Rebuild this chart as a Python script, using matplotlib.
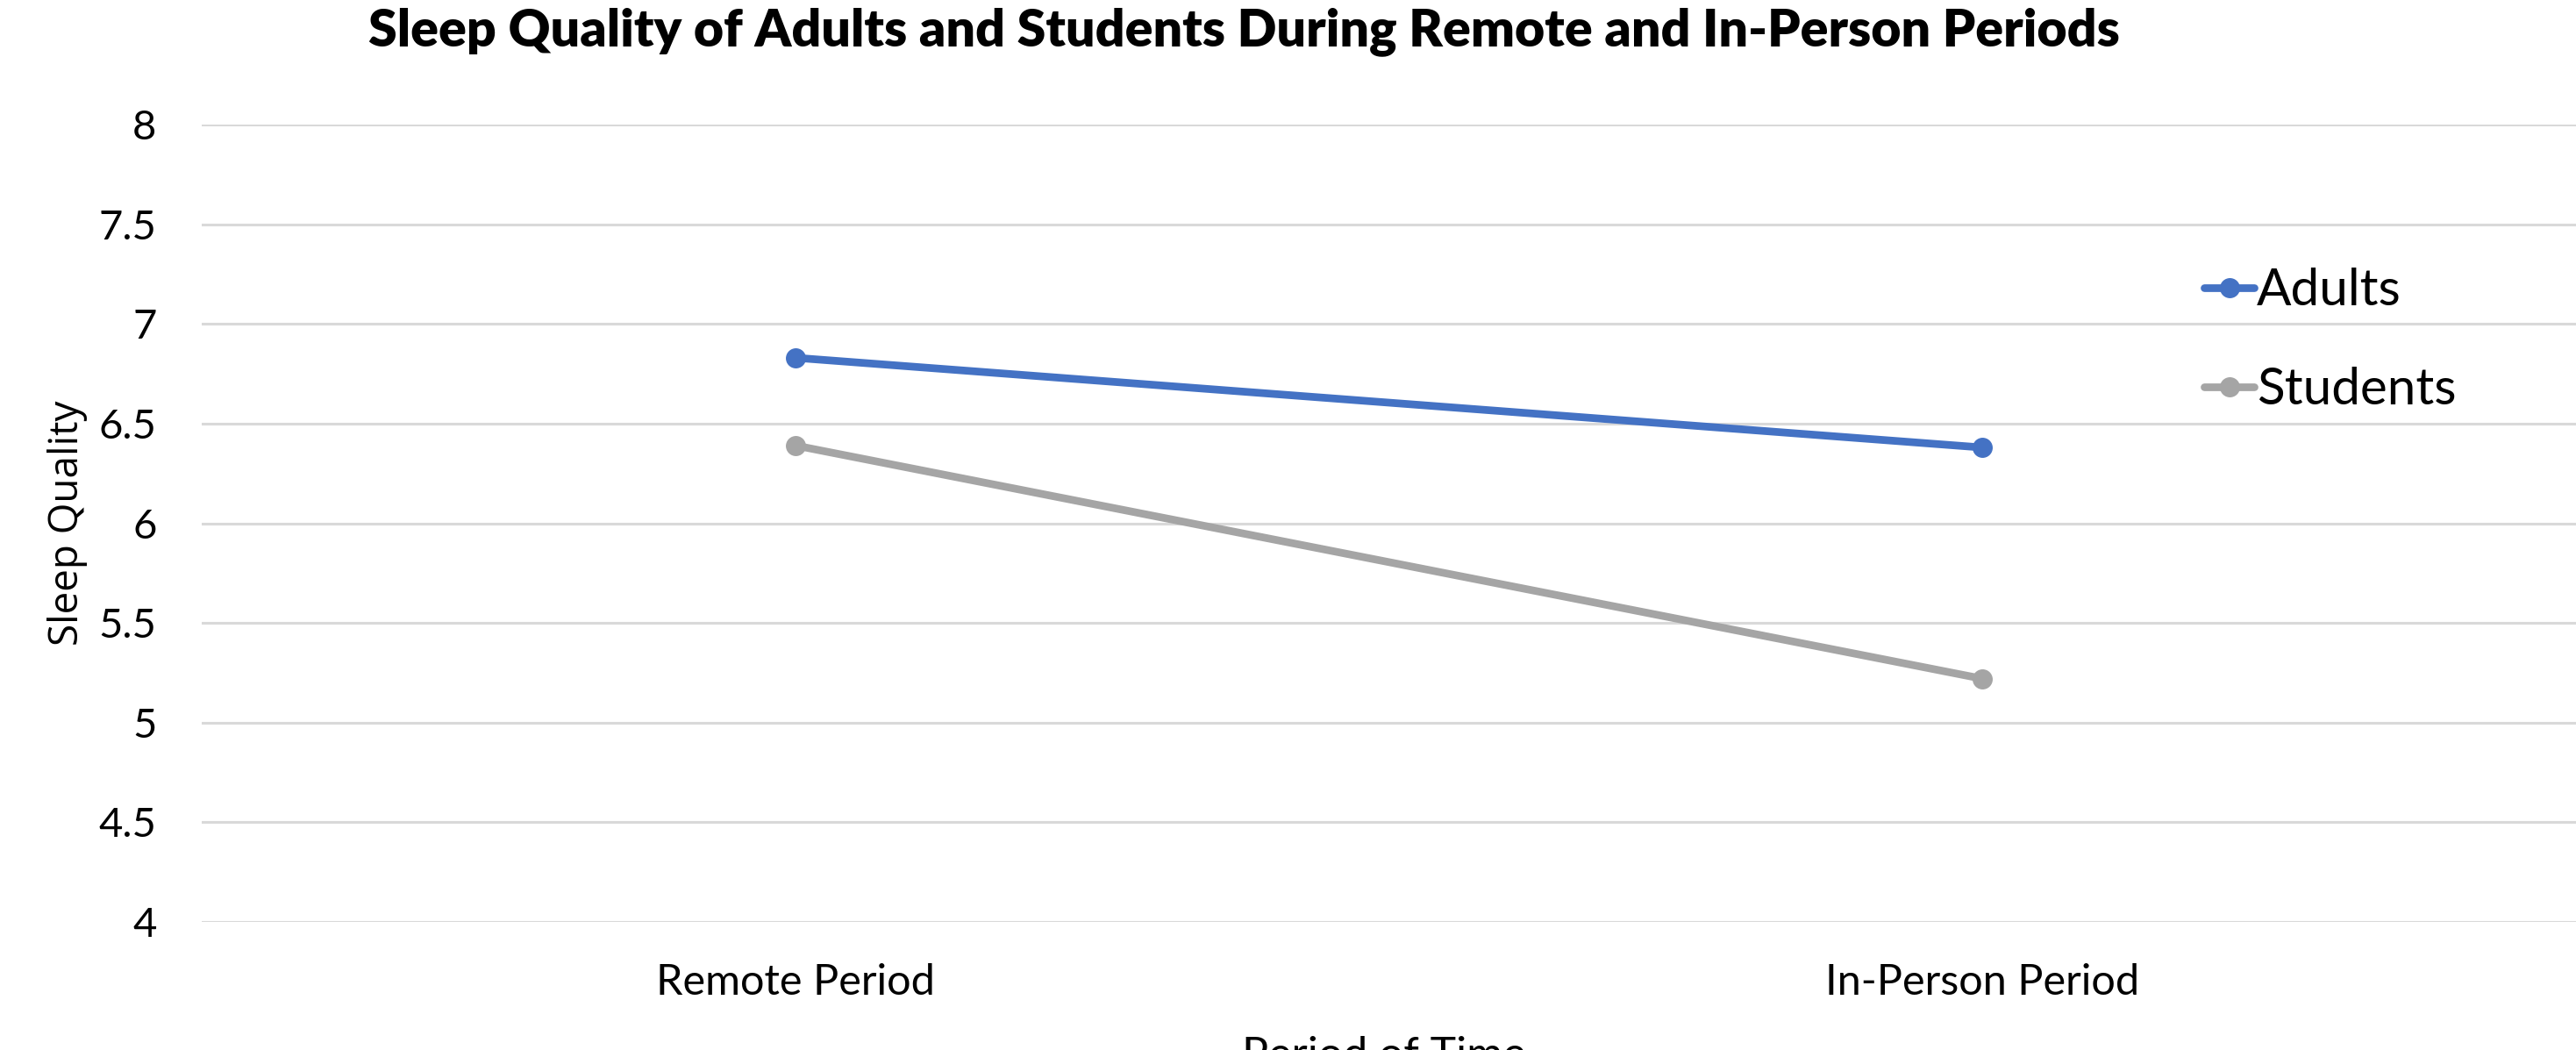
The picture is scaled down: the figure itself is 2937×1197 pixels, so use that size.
import matplotlib
matplotlib.use("Agg")
import matplotlib.pyplot as plt

categories = ["Remote Period", "In-Person Period"]
adults = [6.83, 6.38]
students = [6.39, 5.22]
yticks = [4, 4.5, 5, 5.5, 6, 6.5, 7, 7.5, 8]
ytick_labels = ["4", "4.5", "5", "5.5", "6", "6.5", "7", "7.5", "8"]

W, H = 2937, 1197
fig = plt.figure(figsize=(W / 100, H / 100), dpi=100)
fig.patch.set_facecolor("white")
ax = fig.add_axes([230 / W, 1 - 1051 / H, (W - 230) / W, (1051 - 142) / H])

x = list(range(len(categories)))
blue = "#4472C4"
gray = "#A5A5A5"
ax.plot(x, adults, color=blue, lw=6.3, marker="o", ms=15.5, label="Adults",
        solid_capstyle="round", zorder=3)
ax.plot(x, students, color=gray, lw=6.3, marker="o", ms=15.5, label="Students",
        solid_capstyle="round", zorder=3)

ax.set_xlim(-0.5, 1.5)
ax.set_ylim(4, 8)
ax.set_yticks(yticks)
ax.set_yticklabels(ytick_labels)
ax.set_xticks(x)
ax.set_xticklabels(categories)
ax.yaxis.grid(True, color="#D9D9D9", lw=2.2)
ax.set_axisbelow(True)
for s in ax.spines.values():
    s.set_visible(False)
ax.tick_params(axis="both", length=0)
ax.tick_params(axis="y", pad=37, labelsize=34)
ax.tick_params(axis="x", pad=34, labelsize=35)
for lab in ax.get_xticklabels() + ax.get_yticklabels():
    lab.set_fontfamily("Lato")

fig.text(1418 / W, 1 - 52 / H,
         "Sleep Quality of Adults and Students During Remote and In-Person Periods",
         ha="center", va="baseline", fontsize=42.5, fontweight="heavy", family="Lato")
fig.text(77 / W, 1 - 596 / H, "Sleep Quality", rotation=90, ha="center", va="center",
         fontsize=33, family="Open Sans")
fig.text(1578 / W, 1 - 1181 / H, "Period of Time", ha="center", va="top",
         fontsize=36, family="Lato")

leg = ax.legend(loc="center left", bbox_to_anchor=(2484 / W, 1 - 388 / H),
                bbox_transform=fig.transFigure, frameon=False,
                prop={"family": "Lato", "size": 42}, handlelength=0.98,
                handletextpad=0.05, labelspacing=1.03, borderpad=0)

fig.savefig("out.png", dpi=100, facecolor="white")
